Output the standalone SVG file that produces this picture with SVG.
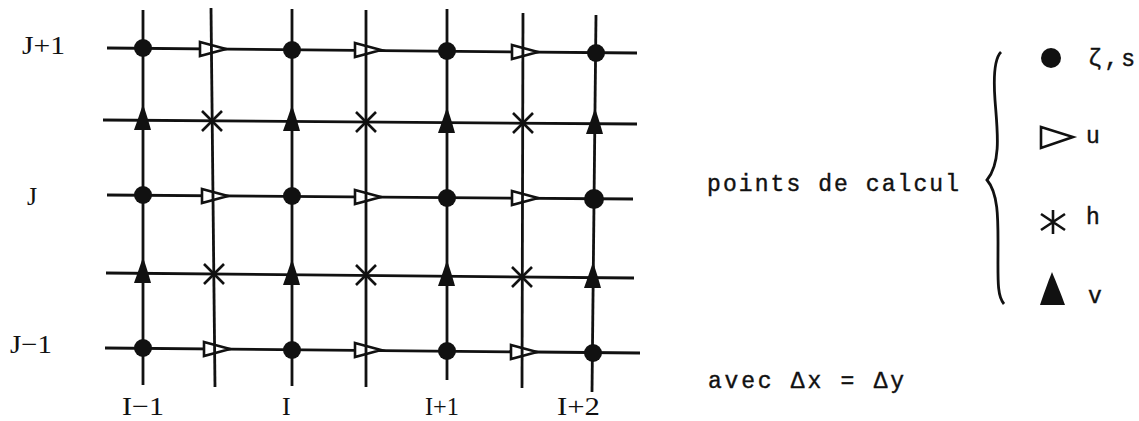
<svg xmlns="http://www.w3.org/2000/svg" xmlns:xlink="http://www.w3.org/1999/xlink" width="1139" height="421" viewBox="0 0 1139 421">
<style>
.ln{stroke:#111;stroke-width:2.8;fill:none;stroke-linecap:butt}
.dot{fill:#111}
.tu{fill:#fff;stroke:#111;stroke-width:2.6;stroke-linejoin:miter}
.tv{fill:#111}
.x{stroke:#111;stroke-width:2.6;fill:none}
.lab{font-family:"Liberation Serif","Times New Roman",serif;font-size:26px;fill:#111}
.tw{font-family:"Liberation Mono","Courier New",monospace;font-size:23px;fill:#111;stroke:#111;stroke-width:0.4}
</style>
<defs>
<path id="u" class="tu" d="M-11,-7 L15,0 L-11,7 Z"/>
<path id="v" class="tv" d="M0,-16 C2,-10 6,2 8,10 L-9,10 C-6,2 -2,-10 0,-16 Z"/>
<g id="h"><path class="x" d="M-10,-10 L10,10 M10,-10 L-10,10"/></g>
</defs>
<rect width="1139" height="421" fill="#fff"/>

<g id="connectors">
<g id="rows">
<line class="ln" x1="107" y1="48" x2="637" y2="53"/>
<line class="ln" x1="103" y1="120" x2="637" y2="124"/>
<line class="ln" x1="107" y1="195" x2="633" y2="199"/>
<line class="ln" x1="106" y1="273" x2="634" y2="278"/>
<line class="ln" x1="105" y1="348" x2="640" y2="353"/>
</g>
<g id="u-points">
<use xlink:href="#u" x="211" y="49"/>
<use xlink:href="#u" x="366" y="50"/>
<use xlink:href="#u" x="523" y="52"/>
<use xlink:href="#u" x="213" y="196"/>
<use xlink:href="#u" x="366" y="197"/>
<use xlink:href="#u" x="523" y="198"/>
<use xlink:href="#u" x="215" y="349"/>
<use xlink:href="#u" x="366" y="350"/>
<use xlink:href="#u" x="522" y="352"/>
</g>
<g id="columns">
<line class="ln" x1="143" y1="10" x2="143" y2="385"/>
<line class="ln" x1="211" y1="8" x2="215" y2="387"/>
<line class="ln" x1="292" y1="9" x2="292" y2="386"/>
<line class="ln" x1="366" y1="10" x2="366" y2="387"/>
<line class="ln" x1="447" y1="9" x2="447" y2="380"/>
<line class="ln" x1="523" y1="13" x2="522" y2="388"/>
<line class="ln" x1="596" y1="15" x2="592" y2="392"/>
</g>
</g>

<g id="zeta-points">
<circle class="dot" cx="143" cy="48" r="9"/>
<circle class="dot" cx="292" cy="50" r="9"/>
<circle class="dot" cx="447" cy="51" r="9"/>
<circle class="dot" cx="596" cy="53" r="9"/>
<circle class="dot" cx="143" cy="195" r="9"/>
<circle class="dot" cx="292" cy="196" r="9"/>
<circle class="dot" cx="447" cy="198" r="9"/>
<circle class="dot" cx="594" cy="199" r="10"/>
<circle class="dot" cx="143" cy="348" r="9"/>
<circle class="dot" cx="292" cy="350" r="9"/>
<circle class="dot" cx="447" cy="351" r="9"/>
<circle class="dot" cx="593" cy="353" r="9"/>
</g>
<g id="v-points">
<use xlink:href="#v" x="143" y="120"/>
<use xlink:href="#v" x="292" y="121"/>
<use xlink:href="#v" x="447" y="123"/>
<use xlink:href="#v" x="595" y="124"/>
<use xlink:href="#v" x="143" y="273"/>
<use xlink:href="#v" x="292" y="275"/>
<use xlink:href="#v" x="447" y="276"/>
<use xlink:href="#v" x="593" y="278"/>
</g>
<g id="h-points">
<use xlink:href="#h" x="212" y="121"/>
<use xlink:href="#h" x="366" y="122"/>
<use xlink:href="#h" x="523" y="123"/>
<use xlink:href="#h" x="214" y="274"/>
<use xlink:href="#h" x="366" y="275"/>
<use xlink:href="#h" x="522" y="277"/>
</g>

<g id="row-labels">
<text class="lab" x="22" y="54" textLength="43" lengthAdjust="spacingAndGlyphs">J+1</text>
<text class="lab" x="27" y="205">J</text>
<text class="lab" x="10" y="353" textLength="42" lengthAdjust="spacingAndGlyphs">J−1</text>
</g>
<g id="col-labels">
<text class="lab" x="122" y="415" textLength="42" lengthAdjust="spacingAndGlyphs">I−1</text>
<text class="lab" x="282" y="415">I</text>
<text class="lab" x="425" y="415" textLength="34" lengthAdjust="spacingAndGlyphs">I+1</text>
<text class="lab" x="557" y="415" textLength="43" lengthAdjust="spacingAndGlyphs">I+2</text>
</g>

<g id="legend">
<text class="tw" x="707" y="191" textLength="252" lengthAdjust="spacing">points de calcul</text>
<path id="brace" class="ln" d="M1001,52 C995,58 993,72 995,100 C997,128 1002,162 987,180 C999,194 998,222 998,250 C998,280 997,296 1004,304"/>
<g id="leg-zeta">
<circle class="dot" cx="1051" cy="58" r="10"/>
<text class="tw" x="1088" y="66" textLength="47" lengthAdjust="spacing">ζ,s</text>
</g>
<g id="leg-u">
<path class="tu" d="M1041,127 L1073,137 L1041,148 Z"/>
<text class="tw" x="1086" y="143">u</text>
</g>
<g id="leg-h">
<path class="x" d="M1053,210 L1053,234 M1041,214 L1065,230 M1065,214 L1041,230"/>
<text class="tw" x="1086" y="224">h</text>
</g>
<g id="leg-v">
<path class="tv" d="M1052,272 C1056,282 1062,296 1065,305 L1040,305 C1043,296 1048,282 1052,272 Z"/>
<text class="tw" x="1088" y="303">v</text>
</g>
</g>

<g id="note">
<text class="tw" x="708" y="388" textLength="196" lengthAdjust="spacing">avec Δx = Δy</text>
</g>
</svg>
